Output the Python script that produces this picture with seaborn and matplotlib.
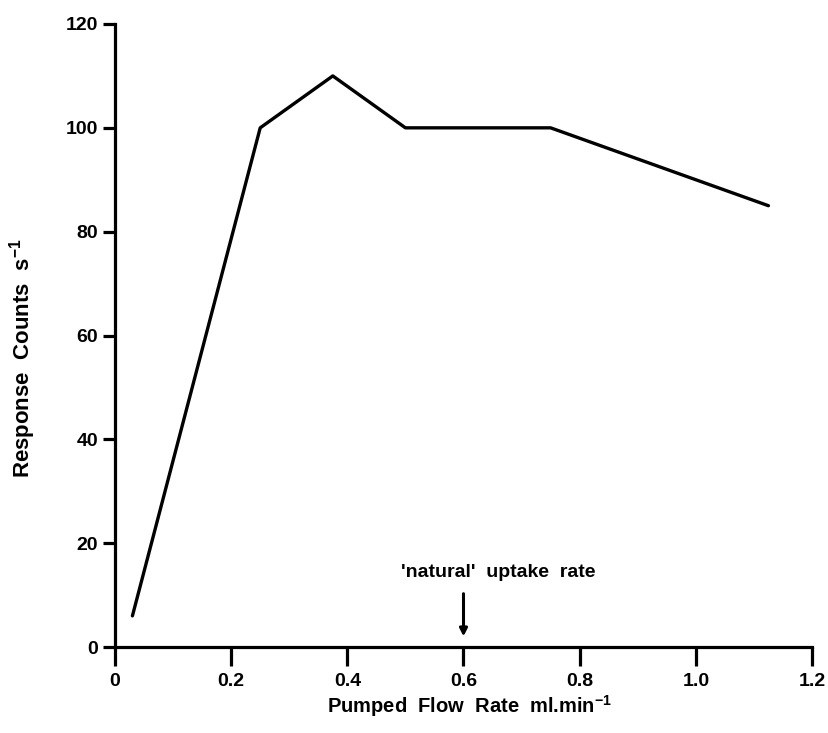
import matplotlib
matplotlib.use("Agg")
import matplotlib.pyplot as plt
import seaborn as sns
import pandas as pd

flow_rate = [0.03, 0.25, 0.375, 0.5, 0.75, 1.125]
response = [6, 100, 110, 100, 100, 85]
x_ticks = [0, 0.2, 0.4, 0.6, 0.8, 1.0, 1.2]
x_tick_labels = ["0", "0.2", "0.4", "0.6", "0.8", "1.0", "1.2"]
y_ticks = [0, 20, 40, 60, 80, 100, 120]
natural_rate = 0.6

sns.set_style("ticks")
plt.rcParams['font.family'] = ['Liberation Sans', 'DejaVu Sans']
plt.rcParams['mathtext.fontset'] = 'custom'
plt.rcParams['mathtext.rm'] = 'Liberation Sans:bold'
plt.rcParams['mathtext.bf'] = 'Liberation Sans:bold'
plt.rcParams['text.color'] = 'black'
plt.rcParams['axes.labelcolor'] = 'black'
plt.rcParams['xtick.color'] = 'black'
plt.rcParams['ytick.color'] = 'black'

df = pd.DataFrame({"flow": flow_rate, "resp": response})

fig = plt.figure(figsize=(8.29, 7.33), dpi=100)
ax = fig.add_axes([115/829, 1 - 647/733, (812-115)/829, (647-24)/733])
sns.lineplot(data=df, x="flow", y="resp", ax=ax, color="black", linewidth=2.4, sort=False)

ax.set_xlim(0, 1.2)
ax.set_ylim(0, 120)
ax.set_xticks(x_ticks)
ax.set_xticklabels(x_tick_labels)
ax.set_yticks(y_ticks)
for s in ["top", "right"]:
    ax.spines[s].set_visible(False)
for s in ["left", "bottom"]:
    ax.spines[s].set_linewidth(2.3)
    ax.spines[s].set_color("black")
ax.tick_params(axis="x", direction="out", length=14, width=2.3, labelsize=14, pad=5,
               colors="black", labelcolor="black")
ax.tick_params(axis="y", direction="out", length=9, width=2.3, labelsize=14, pad=3,
               colors="black", labelcolor="black")
for lab in ax.get_xticklabels() + ax.get_yticklabels():
    lab.set_fontweight("bold")

ax.set_xlabel("Pumped  Flow  Rate  ml.min$^{-1}$", fontsize=14.5, fontweight="bold", color="black")
ax.set_ylabel("Response  Counts  s$^{-1}$", fontsize=16, fontweight="bold", color="black")
ax.xaxis.set_label_coords((470 - 115) / 697, (647 - 706) / 623)
ax.yaxis.set_label_coords((23 - 115) / 697, (647 - 358) / 623)
ax.xaxis.label.set_va("center")
ax.yaxis.label.set_va("center")

ax.annotate("", xy=(natural_rate, 1.5), xytext=(natural_rate, 10.8),
            arrowprops=dict(arrowstyle="-|>", color="black", lw=2.2, mutation_scale=11))
ax.text(natural_rate + 0.06, 14.4, "'natural'  uptake  rate", ha="center", va="center",
        fontsize=14, fontweight="bold", color="black")

fig.savefig("out.png", dpi=100)
